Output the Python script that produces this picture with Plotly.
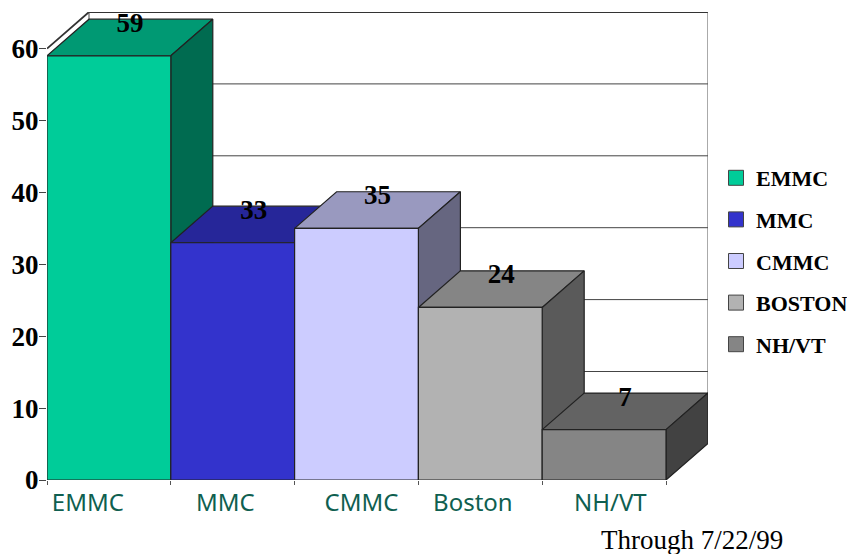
import plotly.graph_objects as go

categories = ["EMMC", "MMC", "CMMC", "Boston", "NH/VT"]
values = [59, 33, 35, 24, 7]
legend_names = ["EMMC", "MMC", "CMMC", "BOSTON", "NH/VT"]
y_ticks = [0, 10, 20, 30, 40, 50, 60]
front_colors = ["#00CC99", "#3333CC", "#CCCCFF", "#B2B2B2", "#858585"]
top_colors = ["#009973", "#262699", "#9999BF", "#858585", "#636363"]
side_colors = ["#006B50", "#1A1A70", "#666680", "#5A5A5A", "#424242"]
label_centres = [0.33, 1.44, 2.54, 3.44, 4.55]  # category text sits off-centre in the source

# the page body has an 8 px margin, and the figure fills what is left
OFF = 8
W, H = 847, 546
X0, X1, Y0, Y1 = 47 - OFF, 708 - OFF, 480 - OFF, 12 - OFF
DX = 42 / 123.8   # depth offset in category units
DY = (Y0 - Y1) / 7.19 - y_ticks[-1]   # depth offset in value units
N = len(categories)
LINE = "#222222"

fig = go.Figure()


def poly(xs, ys, fill, group):
    fig.add_trace(go.Scatter(
        x=xs + xs[:1], y=ys + ys[:1], mode="lines", fill="toself", fillcolor=fill,
        line=dict(color=LINE, width=1.2), showlegend=False, hoverinfo="skip",
        legendgroup=group, cliponaxis=False))


# back wall
for t in y_ticks[1:]:
    top = t == y_ticks[-1]
    fig.add_trace(go.Scatter(
        x=[0, DX, N + DX] if top else [DX, N + DX],
        y=[t, t + DY, t + DY] if top else [t + DY, t + DY],
        mode="lines", line=dict(color="#333333" if top else "#444444", width=1.8 if top else 1),
        showlegend=False, hoverinfo="skip", cliponaxis=False))
fig.add_trace(go.Scatter(x=[N + DX, N + DX], y=[DY, y_ticks[-1] + DY], mode="lines",
                         line=dict(color="#555555", width=1), showlegend=False,
                         hoverinfo="skip", cliponaxis=False))
fig.add_trace(go.Scatter(x=[DX, DX], y=[DY, y_ticks[-1] + DY], mode="lines",
                         line=dict(color="#444444", width=1), showlegend=False,
                         hoverinfo="skip", cliponaxis=False))

# bars
for i, v in enumerate(values):
    g = legend_names[i]
    poly([i, i + 1, i + 1 + DX, i + DX], [v, v, v + DY, v + DY], top_colors[i], g)
    poly([i + 1, i + 1 + DX, i + 1 + DX, i + 1], [0, DY, v + DY, v], side_colors[i], g)
    poly([i, i + 1, i + 1, i], [0, 0, v, v], front_colors[i], g)

# value labels
fig.add_trace(go.Scatter(
    x=[i + 0.5 + DX / 2 for i in range(N)],
    y=[v + DY / 2 + 1.75 for v in values],
    mode="text", text=[str(v) for v in values], textposition="middle center",
    textfont=dict(family="Liberation Serif", size=27, color="#000000"),
    texttemplate="<b>%{text}</b>", showlegend=False, hoverinfo="skip", cliponaxis=False))

# legend entries
for i, name in enumerate(legend_names):
    fig.add_trace(go.Scatter(
        x=[None], y=[None], mode="markers", name=f"<b>{name}</b>", legendgroup=name,
        marker=dict(symbol="square", size=15, color=front_colors[i],
                    line=dict(color="#444444", width=1))))

fig.update_layout(
    width=W, height=H, margin=dict(l=0, r=0, t=0, b=0),
    paper_bgcolor="white", plot_bgcolor="white", hovermode=False,
    xaxis=dict(automargin=False, domain=[X0 / W, X1 / W], range=[0, N + DX], showgrid=False, zeroline=False,
               showline=False, tickmode="array", tickvals=label_centres, ticktext=categories,
               ticks="", tickangle=0, ticklabelstandoff=6,
               tickfont=dict(family="Noto Sans", size=24, color="#0F5F50"),
               minor=dict(tickmode="array", tickvals=list(range(N + 1)), ticks="outside",
                          ticklen=4, tickcolor="#555555", tickwidth=1)),
    yaxis=dict(automargin=False, domain=[(H - Y0) / H, (H - Y1) / H], range=[0, y_ticks[-1] + DY],
               showgrid=False, zeroline=False, showline=False, tickmode="array",
               tickvals=y_ticks, ticktext=[f"<b>{t}</b>" for t in y_ticks], ticks="outside",
               ticklen=7, tickcolor="#444444", tickwidth=1, ticklabelstandoff=-5,
               tickfont=dict(family="Liberation Serif", size=27, color="#000000")),
    legend=dict(x=(716 - OFF) / W, y=(H - (157 - OFF)) / H, xanchor="left", yanchor="top", tracegroupgap=10,
                font=dict(family="Liberation Serif", size=22, color="#000000"),
                bgcolor="rgba(0,0,0,0)", itemclick=False, itemdoubleclick=False),
    annotations=[dict(text="Through 7/22/99", x=(599 - OFF) / W, y=(H - (540 - OFF)) / H, xref="paper", yref="paper",
                      xanchor="left", yanchor="middle", showarrow=False,
                      font=dict(family="Liberation Serif", size=27, color="#000000"))],
)
fig.write_html("out.html")
